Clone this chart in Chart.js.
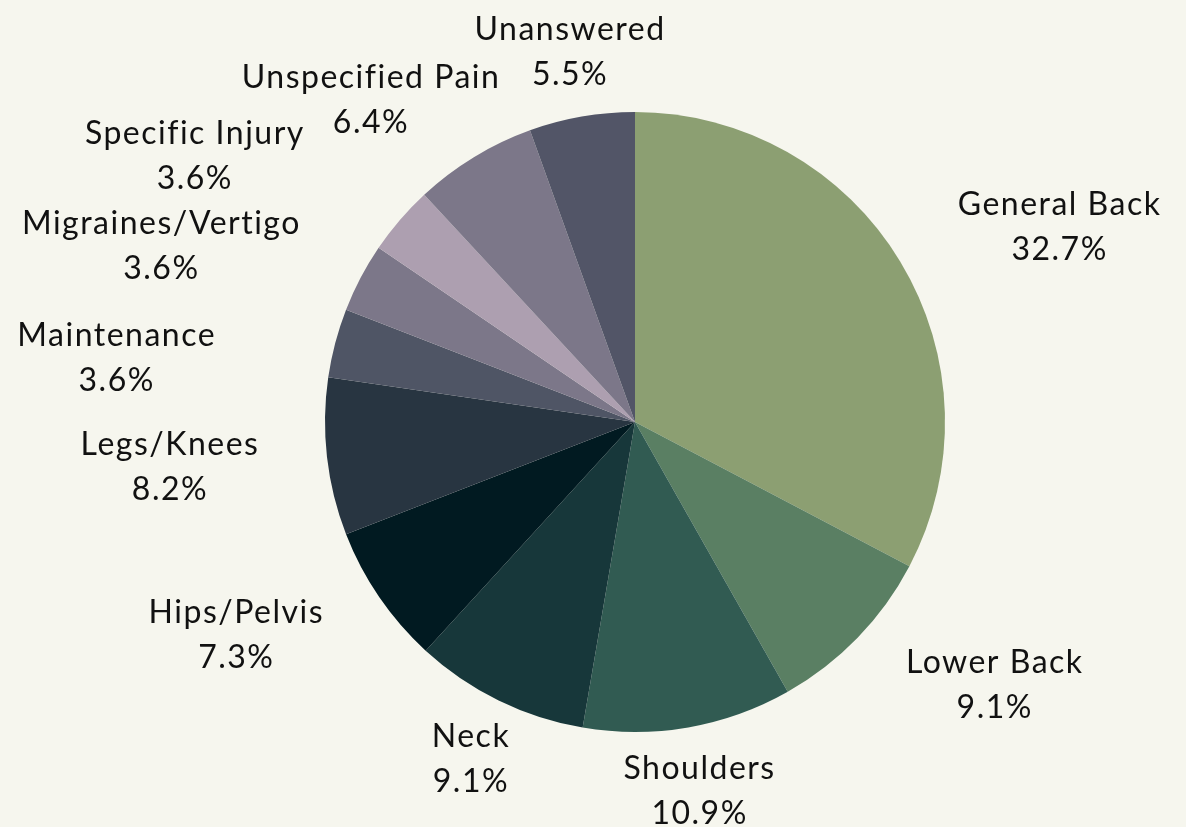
<!DOCTYPE html>
<html>
<head>
<meta charset="utf-8">
<script src="https://cdn.jsdelivr.net/npm/chart.js@4"></script>
<style>
  html, body { margin: 0; padding: 0; background: #f6f6ee; }
  #wrap { width: 1186px; height: 827px; }
</style>
</head>
<body>
<div id="wrap"><canvas id="graficoDolor"></canvas></div>
<script>
const categorias = ["General Back", "Lower Back", "Shoulders", "Neck", "Hips/Pelvis", "Legs/Knees",
  "Maintenance", "Migraines/Vertigo", "Specific Injury", "Unspecified Pain", "Unanswered"];
const porcentajes = [32.7, 9.1, 10.9, 9.1, 7.3, 8.2, 3.6, 3.6, 3.6, 6.4, 5.5];
const colores = ["#8c9f72", "#5a7f63", "#315b52", "#17373a", "#011a21", "#283541",
  "#4f5565", "#7c7789", "#ad9fb0", "#7c7789", "#525567"];

// small manual nudges for the outside labels [dx, dy]
const ajustes = [[11, -1], [28, 2], [-7, 0], [10, 0], [-13, 1], [11, 3],
  [-47, 32], [-11, -1], [-72, -21], [-9, -1], [10, 0]];

const etiquetas = {
  id: "etiquetas",
  afterDraw(chart) {
    const ctx = chart.ctx;
    const arcs = chart.getDatasetMeta(0).data;
    const lineH = 45;
    ctx.save();
    ctx.font = "32px Lato";
    ctx.letterSpacing = "1.5px";
    ctx.fillStyle = "#111";
    ctx.textAlign = "center";
    ctx.textBaseline = "middle";
    arcs.forEach((arc, i) => {
      const p = arc.getProps(["x", "y", "startAngle", "endAngle", "outerRadius"], true);
      const mid = (p.startAngle + p.endAngle) / 2;
      const ux = Math.cos(mid), uy = Math.sin(mid);
      const linea1 = categorias[i];
      const linea2 = porcentajes[i].toFixed(1) + "%";
      const w = Math.max(ctx.measureText(linea1).width, ctx.measureText(linea2).width);
      const h = lineH * 2;
      const r = p.outerRadius + 20;
      const cx = p.x + ux * (r + w / 2 + 60 * Math.abs(ux)) + ajustes[i][0];
      const cy = p.y + uy * (r + h / 2) + ajustes[i][1];
      ctx.fillText(linea1, cx, cy - lineH / 2);
      ctx.fillText(linea2, cx, cy + lineH / 2);
    });
    ctx.restore();
  }
};

new Chart(document.querySelector("#graficoDolor"), {
  type: "pie",
  data: {
    labels: categorias,
    datasets: [{
      data: porcentajes,
      backgroundColor: colores,
      borderWidth: 0
    }]
  },
  options: {
    responsive: true,
    maintainAspectRatio: false,
    animation: false,
    layout: { padding: { top: 112, bottom: 95, left: 200, right: 116 } },
    plugins: {
      legend: { display: false },
      tooltip: { enabled: false }
    }
  },
  plugins: [etiquetas]
});
</script>
</body>
</html>
